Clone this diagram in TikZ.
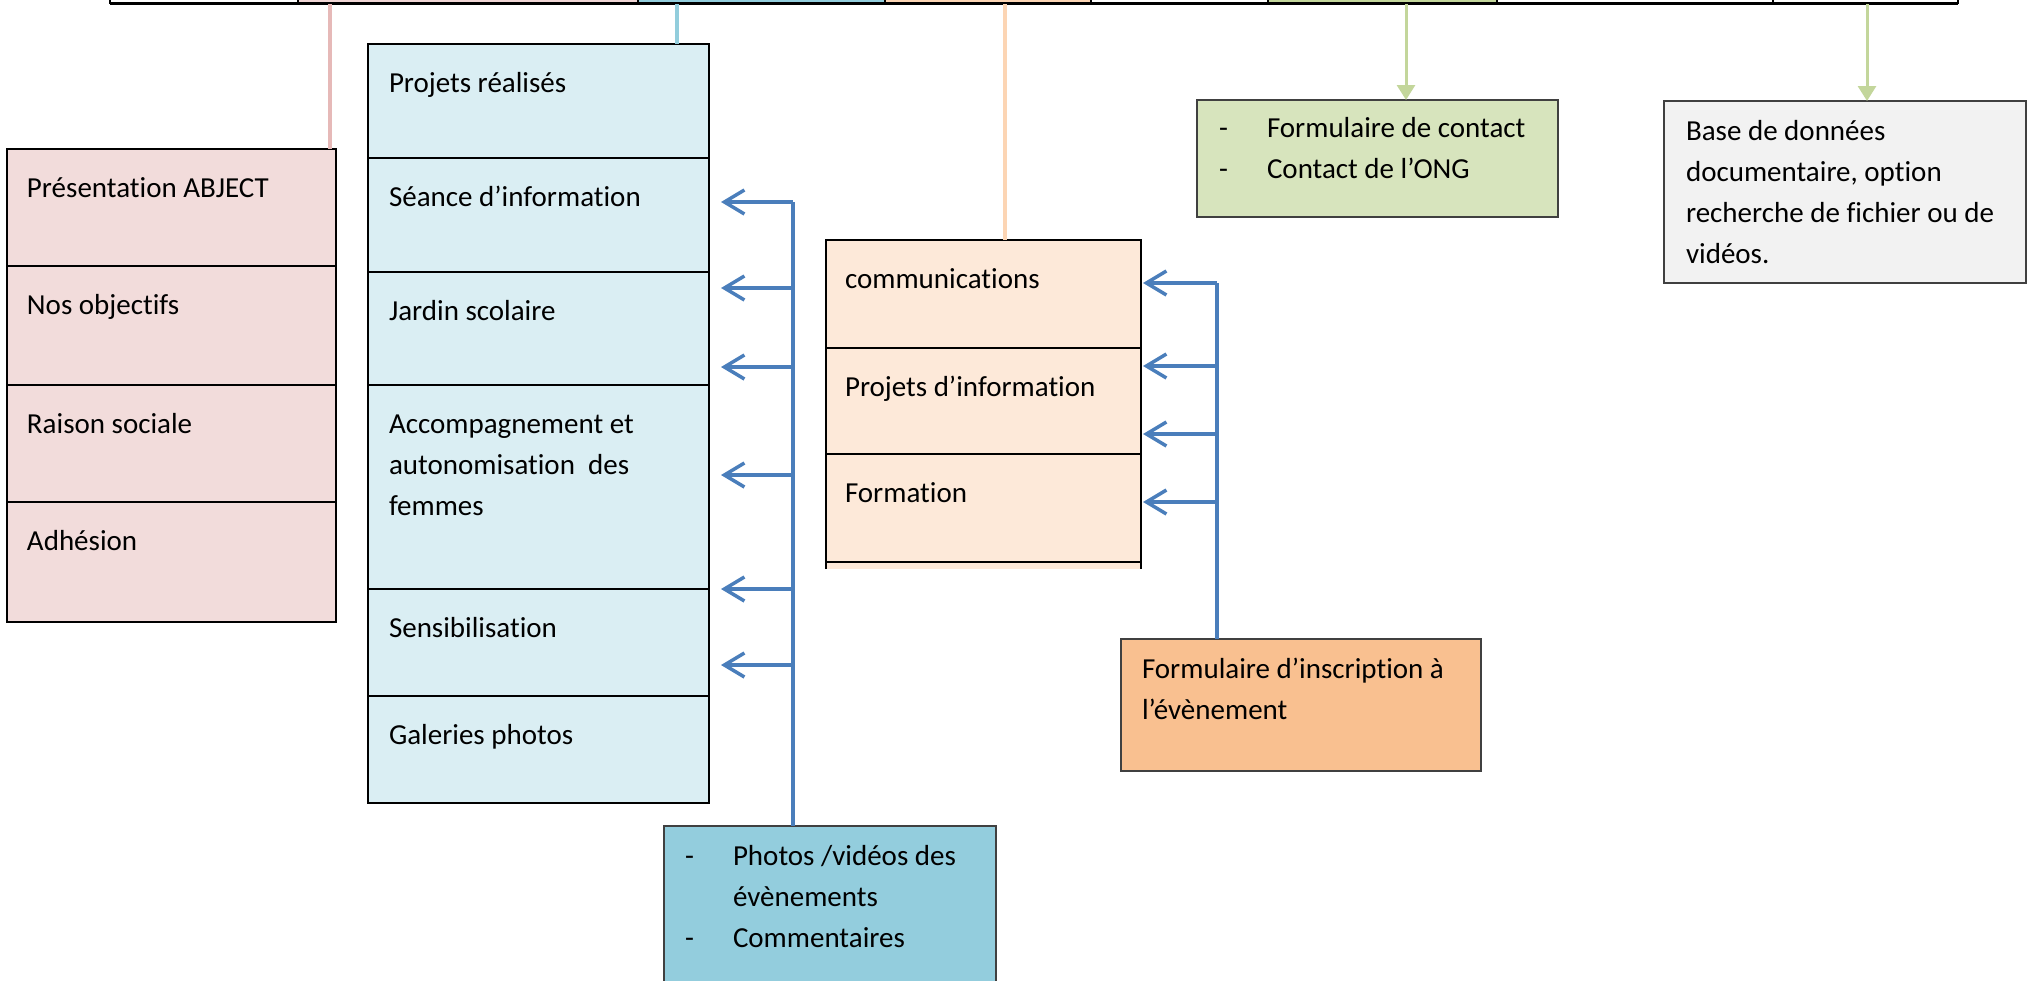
\documentclass[tikz,border=0pt]{standalone}
\usepackage{fontspec}
\setmainfont{Carlito}[Ligatures=NoCommon]
\usetikzlibrary{arrows.meta}
\definecolor{pinkfill}{HTML}{F2DCDB}
\definecolor{pinkline}{HTML}{E6B9B8}
\definecolor{bluefill}{HTML}{DAEEF3}
\definecolor{blueline}{HTML}{92CDDC}
\definecolor{peachfill}{HTML}{FDE9D9}
\definecolor{peachline}{HTML}{FCD5B4}
\definecolor{greenfill}{HTML}{D7E4BD}
\definecolor{greenline}{HTML}{C3D69B}
\definecolor{greyfill}{HTML}{F2F2F2}
\definecolor{orangefill}{HTML}{F9C090}
\definecolor{photofill}{HTML}{93CDDD}
\definecolor{conn}{HTML}{4A7EBB}
\newcommand\mlines[1]{\vtop{\halign{##\hfil\cr#1\crcr}}}
\begin{document}
\begin{tikzpicture}[x=1pt,y=-1pt,
  font=\fontsize{29}{41}\selectfont,
  colbox/.style={draw=black, line width=2.5pt, anchor=north west, inner sep=0pt, outer sep=0pt},
  infobox/.style={draw=black!75, line width=1.5pt, anchor=north west, inner sep=0pt, outer sep=0pt},
  divider/.style={draw=black, line width=1.6pt},
  txt/.style={anchor=base west, inner sep=0pt, outer sep=0pt},
  feed/.style={draw=conn, line width=3.5pt, -{Straight Barb[length=20pt,width=24pt]}},
  trunk/.style={draw=conn, line width=3.5pt},
  greenarrow/.style={draw=greenline, line width=3pt, -{Triangle[length=15pt,width=18pt]}}
]
\useasboundingbox (0,0) rectangle (2033,980);
\clip (0,0) rectangle (2033,980);

% ---- top bar (bottom of a table) ----
\fill[pinkfill!80!pinkline] (298,0) rectangle (638,1.5);
\fill[blueline] (638,0) rectangle (885,1.5);
\fill[peachline] (885,0) rectangle (1091,1.5);
\fill[greenline] (1268,0) rectangle (1497,1.5);
\draw[line width=3pt] (110,3) -- (1958,3);
\foreach \xx in {110,298,638,885,1091,1268,1497,1773,1958}
  \draw[line width=2pt] (\xx,0) -- (\xx,4);

% ---- pink column ----
\node[colbox, fill=pinkfill, minimum width=329pt, minimum height=473pt] (pcol) at (7,149) {};
\foreach \yy in {266,385,502}
  \draw[divider] (pcol.west |- 0,\yy) -- (pcol.east |- 0,\yy);
\node[txt] (p1) at (27,197) {Présentation ABJECT};
\node[txt] (p2) at (27,314) {Nos objectifs};
\node[txt] (p3) at (27,433) {Raison sociale};
\node[txt] (p4) at (27,550) {Adhésion};

% ---- blue column ----
\node[colbox, fill=bluefill, minimum width=341pt, minimum height=759pt] (bcol) at (368,44) {};
\foreach \yy in {158,272,385,589,696}
  \draw[divider, line width=2pt] (bcol.west |- 0,\yy) -- (bcol.east |- 0,\yy);
\node[txt] (b1) at (389,92) {Projets réalisés};
\node[txt] (b2) at (389,206) {Séance d’information};
\node[txt] (b3) at (389,320) {Jardin scolaire};
\node[txt] (b4) at (389,433) {\mlines{Accompagnement et\cr autonomisation\ \ des\cr femmes}};
\node[txt] (b5) at (389,637) {Sensibilisation};
\node[txt] (b6) at (389,744) {Galeries photos};

% ---- peach column (cut at the bottom) ----
\node[anchor=north west, inner sep=0pt, outer sep=0pt, fill=peachfill, minimum width=315pt, minimum height=329pt] (ocol) at (826,240) {};
\draw[line width=2.5pt] (ocol.south west) -- (ocol.north west) -- (ocol.north east) -- (ocol.south east);
\foreach \yy in {348,454,562}
  \draw[divider] (ocol.west |- 0,\yy) -- (ocol.east |- 0,\yy);
\node[txt] (o1) at (845,288) {communications};
\node[txt] (o2) at (845,396) {Projets d’information};
\node[txt] (o3) at (845,502) {Formation};

% ---- other boxes ----
\node[infobox, fill=orangefill, minimum width=360pt, minimum height=132pt] (form) at (1121,639) {};
\node[txt] (formt) at (1142,678) {\mlines{Formulaire d’inscription à\cr l’évènement}};

\node[infobox, fill=photofill, minimum width=332pt, minimum height=200pt] (photo) at (664,826) {};
\node[txt] (photot) at (685,865) {\mlines{\makebox[48pt][l]{-}Photos /vidéos des\cr \hspace*{48pt}évènements\cr \makebox[48pt][l]{-}Commentaires}};

\node[infobox, fill=greenfill, minimum width=361pt, minimum height=117pt] (gbox) at (1197,100) {};
\node[txt] (gboxt) at (1219,137) {\mlines{\makebox[48pt][l]{-}Formulaire de contact\cr \makebox[48pt][l]{-}Contact de l’ONG}};

\node[infobox, fill=greyfill, minimum width=362pt, minimum height=182pt] (dbox) at (1664,101) {};
\node[txt] (dboxt) at (1686,140) {\mlines{Base de données\cr documentaire, option\cr recherche de fichier ou de\cr vidéos.}};

% ---- coloured links from the top bar ----
\coordinate (tp) at (330,4);
\coordinate (tb) at (677,4);
\coordinate (to) at (1005,4);
\coordinate (tg) at (1406,4);
\coordinate (td) at (1867,4);
\draw[pinkline, line width=3.5pt] (tp) -- (tp |- pcol.north);
\draw[blueline, line width=3.5pt] (tb) -- (tb |- bcol.north);
\draw[peachline, line width=3.5pt] (to) -- (to |- ocol.north);
\draw[greenarrow] (tg) -- (tg |- gbox.north);
\draw[greenarrow] (td) -- (td |- dbox.north);

% ---- blue feed from the photo box ----
\coordinate (bt) at (793,202);
\draw[trunk] (photo.north -| bt) -- (bt);
\foreach \yy/\nm in {202/ba, 288/bb, 367/bc, 475/bd, 589/be, 665/bf}{
  \coordinate (\nm) at (721,\yy);
  \draw[feed] (bt |- \nm) -- (\nm);
}

% ---- blue feed from the registration form ----
\coordinate (ot) at (1217,283);
\draw[trunk] (form.north -| ot) -- (ot);
\foreach \yy/\nm in {283/oa, 366/ob, 434/oc, 502/od}{
  \coordinate (\nm) at (1143,\yy);
  \draw[feed] (ot |- \nm) -- (\nm);
}
\end{tikzpicture}
\end{document}
